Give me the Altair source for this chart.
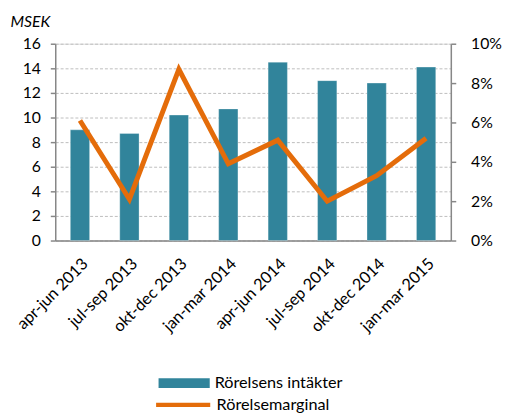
import altair as alt
import pandas as pd

periods = ["apr-jun 2013", "jul-sep 2013", "okt-dec 2013", "jan-mar 2014",
           "apr-jun 2014", "jul-sep 2014", "okt-dec 2014", "jan-mar 2015"]
intakter = [9.0, 8.7, 10.2, 10.7, 14.5, 13.0, 12.8, 14.1]
marginal = [0.061, 0.021, 0.087, 0.039, 0.051, 0.020, 0.033, 0.052]
bar_name = "Rörelsens intäkter"
line_name = "Rörelsemarginal"

df = pd.DataFrame({
    "period": periods,
    "intakter": intakter,
    "marginal": marginal,
    "s1": [bar_name] * len(periods),
    "s2": [line_name] * len(periods),
})

FONT = "Lato"
TEAL = "#31849B"
ORANGE = "#E46C0A"
GRAY = "#878787"

x = alt.X("period:N", sort=periods,
          scale=alt.Scale(paddingInner=0.61, paddingOuter=0.305),
          axis=alt.Axis(title=None, labelAngle=-45, ticks=False, domainColor=GRAY,
                        domainWidth=1.5, labelFontSize=16.5, labelFont=FONT,
                        labelColor="#000000", labelPadding=15))

bars = alt.Chart(df).mark_bar(stroke="#ffffff", strokeWidth=0.6, strokeOpacity=0.5).encode(
    x=x,
    y=alt.Y("intakter:Q", scale=alt.Scale(domain=[0, 16]),
            axis=alt.Axis(values=list(range(0, 17, 2)), title="MSEK", titleAngle=0,
                          titleX=-46, titleY=-15, titleAlign="left", titleFontStyle="italic",
                          titleFontWeight="normal", titleFontSize=16, titleFont=FONT,
                          titleColor="#000000",
                          labelFontSize=16, labelFont=FONT, labelColor="#000000",
                          domainColor=GRAY, domainWidth=1.5, tickColor=GRAY, tickWidth=1.5,
                          tickSize=5, labelPadding=10,
                          grid=True, gridColor="#BDBDBD", gridDash=[3, 2], gridWidth=1)),
    color=alt.Color("s1:N", scale=alt.Scale(range=[TEAL]),
                    legend=alt.Legend(title=None, orient="none", legendX=105, legendY=319,
                                      symbolType="M-1,-0.19H1V0.19H-1Z", symbolSize=2704,
                                      symbolStrokeWidth=0, labelFontSize=16.5, labelFont=FONT,
                                      labelColor="#000000", labelOffset=5)),
)

line = alt.Chart(df).mark_line(strokeWidth=5, strokeJoin="miter", strokeCap="butt").encode(
    x=x,
    y=alt.Y("marginal:Q", scale=alt.Scale(domain=[0, 0.1]),
            axis=alt.Axis(orient="right", values=[0, 0.02, 0.04, 0.06, 0.08, 0.1],
                          format=".0%", title=None, grid=False,
                          labelFontSize=16, labelFont=FONT, labelColor="#000000",
                          domainColor=GRAY, domainWidth=1.5, tickColor=GRAY, tickWidth=1.5,
                          tickSize=5, labelPadding=15)),
    stroke=alt.Stroke("s2:N", scale=alt.Scale(range=[ORANGE]),
                      legend=alt.Legend(title=None, orient="none", legendX=100, legendY=337,
                                        symbolType="stroke", symbolSize=3025,
                                        symbolStrokeWidth=4.5, labelFontSize=16.5, labelFont=FONT,
                                        labelColor="#000000", labelOffset=4)),
)

chart = alt.layer(bars, line).resolve_scale(y="independent", color="independent").properties(
    width=402, height=200,
    autosize=alt.AutoSizeParams(type="none"),
    padding={"left": 48, "top": 33, "right": 52, "bottom": 175}
).configure_view(stroke=None).configure(background="#ffffff")

chart.save("out.html", embed_options={"renderer": "svg", "actions": False})
